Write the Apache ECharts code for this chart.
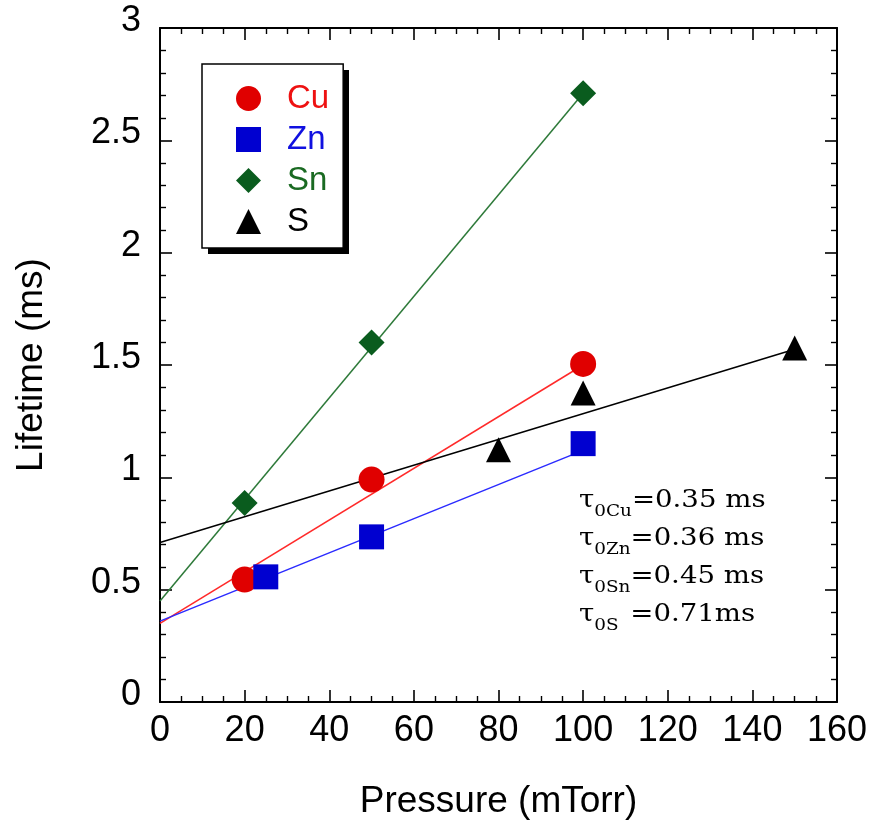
<!DOCTYPE html>
<html>
<head>
<meta charset="utf-8">
<script src="https://cdn.jsdelivr.net/npm/echarts@6/dist/echarts.min.js"></script>
<style>
  html, body { margin: 0; padding: 0; background: #fff; }
  #chart { width: 873px; height: 821px; }
</style>
</head>
<body>
<div id="chart"></div>
<script>
// Measured lifetimes (ms) vs. pressure (mTorr) for each element
const elements = ['Cu', 'Zn', 'Sn', 'S'];
const cuPressure = [20, 50, 100];
const cuLifetime = [0.545, 0.99, 1.505];
const znPressure = [25, 50, 100];
const znLifetime = [0.557, 0.735, 1.15];
const snPressure = [20, 50, 100];
const snLifetime = [0.886, 1.60, 2.71];
const sPressure = [80, 100, 150];
const sLifetime = [1.123, 1.375, 1.576];

// Linear fits: zero-pressure intercept (tau0) and end point of each fit line
const fitIntercept = [0.35, 0.36, 0.45, 0.71];
const fitEndPressure = [100, 100, 100, 150];
const fitEndLifetime = [1.50, 1.12, 2.71, 1.57];

// Axis ticks
const xTicks = [0, 20, 40, 60, 80, 100, 120, 140, 160];
const yTicks = [0, 0.5, 1, 1.5, 2, 2.5, 3];

const markerColor = ['#e00000', '#0000d0', '#0a5c1e', '#000000'];
const lineColor = ['#ff2a2a', '#2a2aff', '#2e7a3a', '#000000'];
const textColor = ['#ee1111', '#1010e0', '#1a6a22', '#000000'];
const symbols = ['circle', 'rect', 'diamond', 'triangle'];
const symbolSizes = [26, 25, 26, 25];

const pressures = [cuPressure, znPressure, snPressure, sPressure];
const lifetimes = [cuLifetime, znLifetime, snLifetime, sLifetime];

const zip = (xs, ys) => xs.map((x, i) => [x, ys[i]]);

const sansFont = 'Liberation Sans, Arial, sans-serif';
const serifFont = 'DejaVu Serif, serif';

const series = [];
elements.forEach((el, i) => {
  series.push({
    name: el + ' fit',
    type: 'line',
    data: [[0, fitIntercept[i]], [fitEndPressure[i], fitEndLifetime[i]]],
    showSymbol: false,
    symbol: 'none',
    silent: true,
    z: 2,
    lineStyle: { color: lineColor[i], width: 1.5 }
  });
});
elements.forEach((el, i) => {
  series.push({
    name: el,
    type: 'scatter',
    data: zip(pressures[i], lifetimes[i]),
    symbol: symbols[i],
    symbolSize: symbolSizes[i],
    z: 5,
    itemStyle: { color: markerColor[i], opacity: 1 }
  });
});

function frameAxis(extra, minorSplit) {
  return Object.assign({
    type: 'value',
    axisLine: { show: true, onZero: false, lineStyle: { color: '#000', width: 2 } },
    axisTick: { show: true, inside: true, length: 12, lineStyle: { color: '#000', width: 1.6 } },
    minorTick: { show: true, splitNumber: minorSplit, length: 6, lineStyle: { color: '#000', width: 1.4 } },
    splitLine: { show: false },
    minorSplitLine: { show: false }
  }, extra);
}

// Annotation lines: tau0 per element, built from the fit intercepts
const subNames = ['0Cu', '0Zn', '0Sn', '0S  '];
const unitSep = [' ', ' ', ' ', ''];
const annotation = elements.map((el, i) =>
  '{t|τ}{s|' + subNames[i] + '}{t|=' + fitIntercept[i].toFixed(2) + unitSep[i] + 'ms}'
).join('\n');

const chart = echarts.init(document.getElementById('chart'), null, { renderer: 'canvas' });
chart.setOption({
  animation: false,
  backgroundColor: '#ffffff',
  grid: { left: 160, right: 36, top: 28, bottom: 119, containLabel: false, outerBoundsMode: 'none' },
  xAxis: [
    frameAxis({
      position: 'bottom',
      min: xTicks[0], max: xTicks[xTicks.length - 1], interval: xTicks[1] - xTicks[0],
      axisLabel: { color: '#000', fontFamily: sansFont, fontSize: 36, margin: 11 },
      name: 'Pressure (mTorr)', nameLocation: 'middle', nameGap: 81,
      nameTextStyle: { color: '#000', fontFamily: sansFont, fontSize: 37 }
    }, 4),
    frameAxis({
      position: 'top',
      min: xTicks[0], max: xTicks[xTicks.length - 1], interval: xTicks[1] - xTicks[0],
      axisLabel: { show: false }
    }, 4)
  ],
  yAxis: [
    frameAxis({
      position: 'left',
      min: yTicks[0], max: yTicks[yTicks.length - 1], interval: yTicks[1] - yTicks[0],
      // labels sit slightly above their ticks
      axisLabel: { color: '#000', fontFamily: sansFont, fontSize: 36, margin: 19, verticalAlign: 'bottom', lineHeight: 14 },
      name: 'Lifetime (ms)', nameLocation: 'middle', nameGap: 110, nameRotate: 90,
      nameTextStyle: { color: '#000', fontFamily: sansFont, fontSize: 37 }
    }, 5),
    frameAxis({
      position: 'right',
      min: yTicks[0], max: yTicks[yTicks.length - 1], interval: yTicks[1] - yTicks[0],
      axisLabel: { show: false }
    }, 5)
  ],
  legend: {
    orient: 'vertical',
    left: 202, top: 64,
    z: 10,
    data: elements.map((el, i) => ({ name: el, icon: symbols[i], textStyle: { color: textColor[i] } })),
    itemWidth: 25, itemHeight: 25, itemGap: 8,
    padding: [18, 14, 10, 34],
    backgroundColor: '#fff',
    borderColor: '#000', borderWidth: 1.5,
    textStyle: { fontFamily: sansFont, fontSize: 33, padding: [0, 0, 0, 21] },
    selectedMode: false
  },
  graphic: [
    {
      // drop shadow behind the legend box
      type: 'rect',
      z: 1,
      shape: { x: 208, y: 70, width: 141, height: 184 },
      style: { fill: '#000' }
    },
    {
      type: 'text',
      left: 579, top: 482,
      scaleX: 1.15,
      z: 3,
      style: {
        text: annotation,
        fill: '#000',
        fontFamily: serifFont,
        fontSize: 24,
        lineHeight: 38,
        rich: {
          t: { fontFamily: serifFont, fontSize: 24, lineHeight: 38, fill: '#000', verticalAlign: 'middle' },
          s: { fontFamily: serifFont, fontSize: 16, lineHeight: 13, fill: '#000', verticalAlign: 'bottom' }
        }
      }
    }
  ],
  series: series
});
</script>
</body>
</html>
